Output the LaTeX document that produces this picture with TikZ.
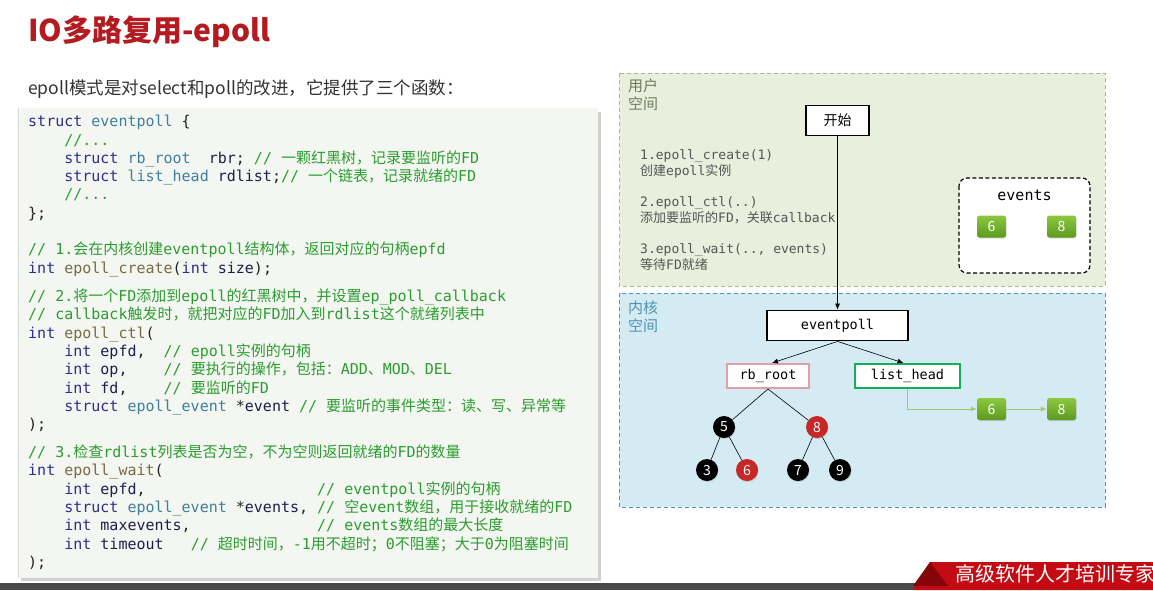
\documentclass[tikz,border=0pt]{standalone}
\usepackage{fontspec}
\setmainfont{Noto Sans CJK SC}
\newfontfamily\cjk{Noto Sans CJK SC}
\newfontfamily\mono{DejaVu Sans Mono}
\usetikzlibrary{arrows.meta,shadows}

\definecolor{titlered}{HTML}{B31B20}
\definecolor{subtext}{HTML}{333333}
\definecolor{codebg}{HTML}{F4F6F1}
\definecolor{ckwcol}{HTML}{2E2E8B}
\definecolor{ctycol}{HTML}{3D7F9E}
\definecolor{cfncol}{HTML}{7A6A44}
\definecolor{cidcol}{HTML}{1E1E4E}
\definecolor{ccmcol}{HTML}{2A9D2F}
\definecolor{plain}{HTML}{222222}
\definecolor{userbg}{HTML}{E8F0DD}
\definecolor{userline}{HTML}{A6BC7E}
\definecolor{userlab}{HTML}{6E7B5E}
\definecolor{kernbg}{HTML}{D5EBF4}
\definecolor{kernline}{HTML}{5A93AE}
\definecolor{kernlab}{HTML}{4D92B3}
\definecolor{notecol}{HTML}{555555}
\definecolor{rbline}{HTML}{E3A0A0}
\definecolor{lhline}{HTML}{12B05A}
\definecolor{redball}{HTML}{C62828}
\definecolor{gtop}{HTML}{8DC73F}
\definecolor{gbot}{HTML}{5C9A1F}
\definecolor{glinkcol}{HTML}{9ACD72}
\definecolor{barcol}{HTML}{4A4A4A}
\definecolor{bannerred}{HTML}{C40A12}
\definecolor{bannerdark}{HTML}{850508}

\newcommand\z[1]{{\cjk#1}}
\newcommand\ckw[1]{\textcolor{ckwcol}{#1}}
\newcommand\cty[1]{\textcolor{ctycol}{#1}}
\newcommand\cfn[1]{\textcolor{cfncol}{#1}}
\newcommand\cid[1]{\textcolor{cidcol}{#1}}
\newcommand\ccm[1]{\textcolor{ccmcol}{#1}}
\newcommand\codefont{\mono\fontsize{15}{18}\selectfont}

\begin{document}
\begin{tikzpicture}[x=1pt,y=-1pt,
		code/.style={anchor=base west, inner sep=0, font=\codefont, text=plain},
		note/.style={anchor=base west, inner sep=0, font=\mono\fontsize{13}{16}\selectfont, text=notecol},
		space label/.style={anchor=base west, inner sep=0, font=\cjk\fontsize{15}{18}\selectfont},
		blk/.style={draw, line width=1.8pt, fill=white, inner sep=0,
			minimum height=30, font=\mono\fontsize{13.5}{16}\selectfont},
		hbox/.style={draw=#1, line width=2pt, fill=white, inner sep=0,
			minimum height=24, font=\mono\fontsize{13.5}{16}\selectfont},
		ball/.style={circle, fill=#1, inner sep=0, minimum size=22, text=white,
			font=\cjk\fontsize{14}{16}\selectfont,
			drop shadow={opacity=.3, shadow xshift=.6pt, shadow yshift=-1pt}},
		gbox/.style={rounded corners=2.5pt, top color=gtop, bottom color=gbot,
			minimum width=29, minimum height=22, inner sep=0, text=white,
			font=\cjk\fontsize{14}{16}\selectfont,
			drop shadow={opacity=.3, shadow xshift=.6pt, shadow yshift=-1pt}},
		link/.style={-{Latex[length=6pt,width=5pt]}, line width=.6pt},
		glink/.style={-{Latex[length=6pt,width=5pt]}, draw=glinkcol, line width=.8pt}]

	\useasboundingbox (0,0) rectangle (1153,590);
	\fill[white] (0,0) rectangle (1153,590);

	\node[anchor=base west, inner sep=0, text=titlered, font=\cjk\bfseries\fontsize{30}{36}\selectfont]
		(title) at (28,41) {IO多路复用-epoll};
	\node[anchor=base west, inner sep=0, text=subtext, font=\cjk\fontsize{17.5}{20}\selectfont]
		(sub) at (28,94.5) {epoll模式是对select和poll的改进，它提供了三个函数：};

	\fill[black!18] (21,112) rectangle (601,581);
	\fill[codebg] (18,108) rectangle (598,578);
	\draw[black!15] (18,108) -- (18,578);

	\node[code] (c1) at (28,126.5) {\ckw{struct} \cty{eventpoll} \{};
	\node[code] (c2) at (28,145) {~~~~\ccm{//...}};
	\node[code] (c3) at (28,163) {~~~~\ckw{struct} \cty{rb\_root}~~\cid{rbr}; \ccm{// \z{一颗红黑树，记录要监听的}FD}};
	\node[code] (c4) at (28,181.5) {~~~~\ckw{struct} \cty{list\_head} \cid{rdlist};\ccm{// \z{一个链表，记录就绪的}FD}};
	\node[code] (c5) at (28,199.5) {~~~~\ccm{//...}};
	\node[code] (c6) at (28,218) {\};};
	\node[code] (c7) at (28,254) {\ccm{// 1.\z{会在内核创建}eventpoll\z{结构体，返回对应的句柄}epfd}};
	\node[code] (c8) at (28,273) {\ckw{int} \cfn{epoll\_create}(\ckw{int} \cid{size});};
	\node[code] (c9) at (28,301) {\ccm{// 2.\z{将一个}FD\z{添加到}epoll\z{的红黑树中，并设置}ep\_poll\_callback}};
	\node[code] (c10) at (28,319.5) {\ccm{// callback\z{触发时，就把对应的}FD\z{加入到}rdlist\z{这个就绪列表中}}};
	\node[code] (c11) at (28,338) {\ckw{int} \cfn{epoll\_ctl}(};
	\node[code] (c12) at (28,356) {~~~~\ckw{int} \cid{epfd},~~\ccm{// epoll\z{实例的句柄}}};
	\node[code] (c13) at (28,374.5) {~~~~\ckw{int} \cid{op},~~~~\ccm{// \z{要执行的操作，包括：}ADD\z{、}MOD\z{、}DEL}};
	\node[code] (c14) at (28,393) {~~~~\ckw{int} \cid{fd},~~~~\ccm{// \z{要监听的}FD}};
	\node[code] (c15) at (28,411) {~~~~\ckw{struct} \cty{epoll\_event} *\cid{event} \ccm{// \z{要监听的事件类型：读、写、异常等}}};
	\node[code] (c16) at (28,429.5) {);};
	\node[code] (c17) at (28,457) {\ccm{// 3.\z{检查}rdlist\z{列表是否为空，不为空则返回就绪的}FD\z{的数量}}};
	\node[code] (c18) at (28,475.5) {\ckw{int} \cfn{epoll\_wait}(};
	\node[code] (c19) at (28,494) {~~~~\ckw{int} \cid{epfd},~~~~~~~~~~~~~~~~~~~\ccm{// eventpoll\z{实例的句柄}}};
	\node[code] (c20) at (28,512) {~~~~\ckw{struct} \cty{epoll\_event} *\cid{events}, \ccm{// \z{空}event\z{数组，用于接收就绪的}FD}};
	\node[code] (c21) at (28,530.5) {~~~~\ckw{int} \cid{maxevents},~~~~~~~~~~~~~~\ccm{// events\z{数组的最大长度}}};
	\node[code] (c22) at (28,549) {~~~~\ckw{int} \cid{timeout}~~~\ccm{// \z{超时时间，}-1\z{用不超时；}0\z{不阻塞；大于}0\z{为阻塞时间}}};
	\node[code] (c23) at (28,567) {);};

	\draw[draw=userline, fill=userbg, line width=.8pt, dash pattern=on 4pt off 3pt] (619,73) rectangle (1105,286);
	\draw[draw=kernline, fill=kernbg, line width=.8pt, dash pattern=on 4pt off 3pt] (619,293) rectangle (1105,507);
	\node[space label, text=userlab] (ul1) at (628,91.5) {用户};
	\node[space label, text=userlab] (ul2) at (628,109.5) {空间};
	\node[space label, text=kernlab] (kl1) at (628,313.5) {内核};
	\node[space label, text=kernlab] (kl2) at (628,331.5) {空间};

	\node[note] (s1) at (640,159.5) {1.epoll\_create(1)};
	\node[note] (s2) at (640,175.5) {\z{创建}epoll\z{实例}};
	\node[note] (s3) at (640,206.5) {2.epoll\_ctl(..)};
	\node[note] (s4) at (640,222.5) {\z{添加要监听的}FD\z{，关联}callback};
	\node[note] (s5) at (640,253.5) {3.epoll\_wait(.., events)};
	\node[note] (s6) at (640,269.5) {\z{等待}FD\z{就绪}};

	\draw[fill=white, line width=1.2pt, dash pattern=on 4pt off 2.5pt, rounded corners=8pt] (959,178) rectangle (1090,273);
	\node[font=\mono\fontsize{15}{18}\selectfont] (evl) at (1024.5,195) {events};
	\node[gbox] (e6) at (991.5,226.5) {6};
	\node[gbox] (e8) at (1061.5,226.5) {8};

	\node[blk, minimum width=63, font=\cjk\fontsize{14}{16}\selectfont] (start) at (837.5,120.5) {开始};
	\node[blk, minimum width=141] (ep) at (837.5,325.5) {eventpoll};
	\node[hbox=rbline, minimum width=82] (rb) at (768,376) {rb\_root};
	\node[hbox=lhline, minimum width=105] (lh) at (907.5,376) {list\_head};

	\draw[link] (start) -- (ep);
	\draw[link] (ep.south) -- ([xshift=4pt]rb.north);
	\draw[link] (ep.south) -- ([xshift=-4pt]lh.north);

	\node[ball=black] (t5) at (724,427) {5};
	\node[ball=redball] (t8) at (817,427) {8};
	\node[ball=black] (t3) at (707,470) {3};
	\node[ball=redball] (t6) at (747,470) {6};
	\node[ball=black] (t7) at (798,470) {7};
	\node[ball=black] (t9) at (840,470) {9};
	\draw[line width=.6pt] (rb.south) -- (t5);
	\draw[line width=.6pt] (rb.south) -- (t8);
	\draw[line width=.6pt] (t5) -- (t3);
	\draw[line width=.6pt] (t5) -- (t6);
	\draw[line width=.6pt] (t8) -- (t7);
	\draw[line width=.6pt] (t8) -- (t9);

	\node[gbox] (k6) at (991.5,409) {6};
	\node[gbox] (k8) at (1061.5,409) {8};
	\draw[glink] (lh.south) |- (k6);
	\draw[glink] (k6) -- (k8);

	\fill[barcol] (0,583) rectangle (940,590);
	\fill[bannerred] (913,590) -- (930,562) -- (1153,562) -- (1153,590) -- cycle;
	\fill[bannerdark] (913,586) -- (930,562) -- (948,586) -- cycle;
	\node[anchor=base west, inner sep=0, text=white, font=\cjk\fontsize{20}{24}\selectfont]
		(banner) at (955,581) {高级软件人才培训专家};

\end{tikzpicture}
\end{document}
